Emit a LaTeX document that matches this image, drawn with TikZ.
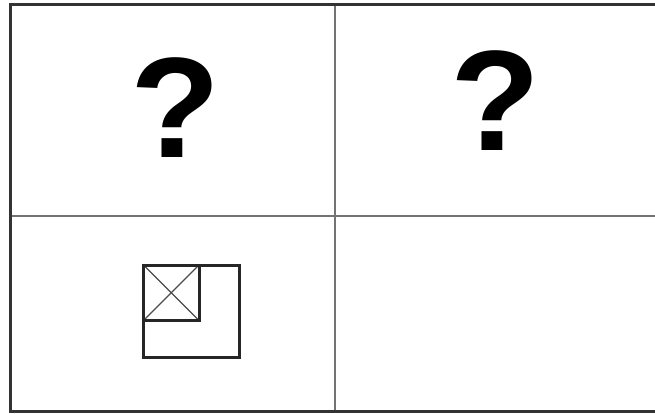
\documentclass[tikz,border=0pt]{standalone}
\usepackage{fontspec}
\setmainfont{Liberation Sans}
\begin{document}
\begin{tikzpicture}[x=1pt,y=-1pt,
  frame/.style={line width=3pt,draw=black!80},
  divider/.style={line width=1.3pt,draw=black!55},
  qmark/.style={inner sep=0pt,anchor=base,font=\fontsize{143}{143}\selectfont\bfseries},
  figline/.style={line width=3pt,draw=black!85,line join=miter},
  cross/.style={line width=1.2pt,draw=black!70}]
\useasboundingbox (0,0) rectangle (655,414);
\fill[white] (0,0) rectangle (655,414);
\coordinate (tr) at (656,5);
\coordinate (tl) at (10.5,5);
\coordinate (bl) at (10.5,411.5);
\coordinate (br) at (656,411.5);
\coordinate (vt) at (335,5);
\coordinate (vb) at (335,411);
\coordinate (hl) at (10,216);
\coordinate (hr) at (656,216);
\draw[divider] (vt) -- (vb);
\draw[divider] (hl) -- (hr);
\draw[frame] (tr) -- (tl) -- (bl) -- (br);
\node[qmark,xscale=1.03] (q1) at (175,158) {?};
\node[qmark,xscale=1.03] (q2) at (495,150) {?};
\coordinate (o1) at (143.5,265);
\coordinate (o2) at (239.5,357);
\coordinate (i2) at (199,320.5);
\draw[cross] (o1) -- (i2);
\draw[cross] (o1 |- i2) -- (i2 |- o1);
\draw[figline] (o1) rectangle (i2);
\draw[figline] (o1) rectangle (o2);
\end{tikzpicture}
\end{document}
